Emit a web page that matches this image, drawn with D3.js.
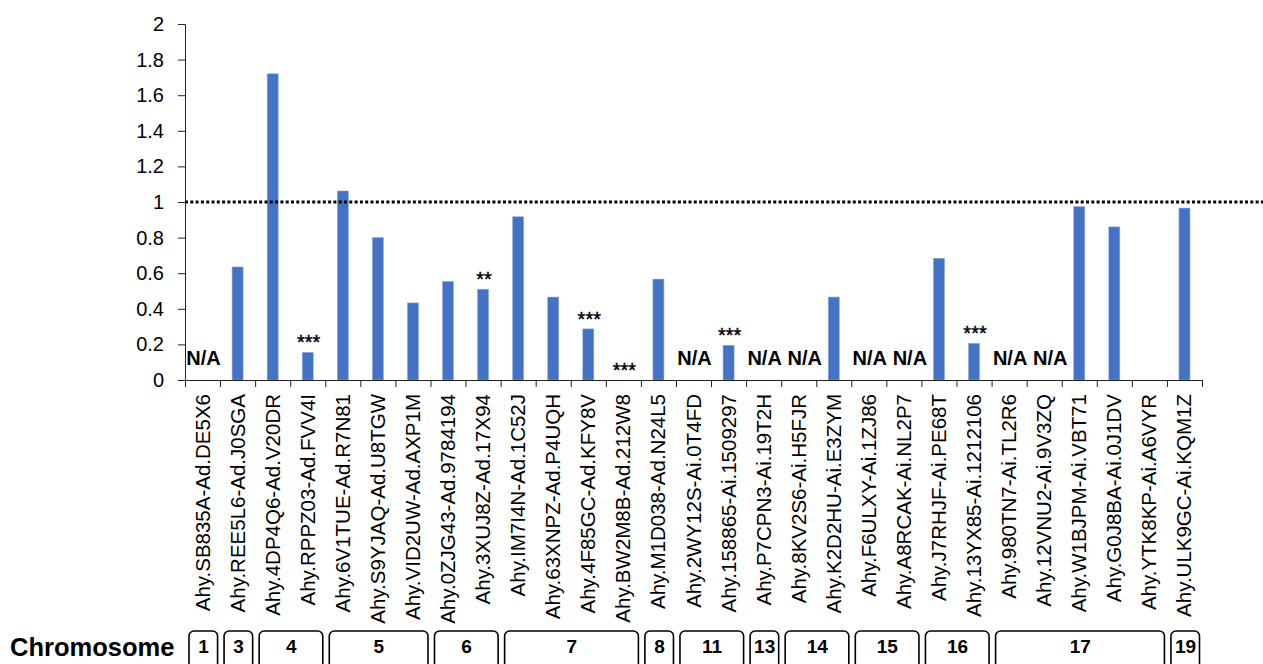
<!DOCTYPE html>
<html>
<head>
<meta charset="utf-8">
<script src="https://cdn.jsdelivr.net/npm/d3@7"></script>
<style>
  body { margin: 0; background: #fff; }
  svg { display: block; }
  text { font-family: "Liberation Sans", Arial, sans-serif; }
</style>
</head>
<body>
<svg id="chart" width="1263" height="664"></svg>
<script>
// marker names, in plot order
let markers = [
  "Ahy.SB835A-Ad.DE5X6", "Ahy.REE5L6-Ad.J0SGA", "Ahy.4DP4Q6-Ad.V20DR", "Ahy.RPPZ03-Ad.FVV4I",
  "Ahy.6V1TUE-Ad.R7N81", "Ahy.S9YJAQ-Ad.U8TGW", "Ahy.VID2UW-Ad.AXP1M", "Ahy.0ZJG43-Ad.9784194",
  "Ahy.3XUJ8Z-Ad.17X94", "Ahy.IM7I4N-Ad.1C52J", "Ahy.63XNPZ-Ad.P4UQH", "Ahy.4F85GC-Ad.KFY8V",
  "Ahy.BW2M8B-Ad.212W8", "Ahy.M1D038-Ad.N24L5", "Ahy.2WY12S-Ai.0T4FD", "Ahy.158865-Ai.1509297",
  "Ahy.P7CPN3-Ai.19T2H", "Ahy.8KV2S6-Ai.H5FJR", "Ahy.K2D2HU-Ai.E3ZYM", "Ahy.F6ULXY-Ai.1ZJ86",
  "Ahy.A8RCAK-Ai.NL2P7", "Ahy.J7RHJF-Ai.PE68T", "Ahy.13YX85-Ai.1212106", "Ahy.980TN7-Ai.TL2R6",
  "Ahy.12VNU2-Ai.9V3ZQ", "Ahy.W1BJPM-Ai.VBT71", "Ahy.G0J8BA-Ai.0J1DV", "Ahy.YTK8KP-Ai.A6VYR",
  "Ahy.ULK9GC-Ai.KQM1Z"
]
// null = N/A
let values = [
  null, 0.635, 1.72, 0.155, 1.062, 0.80, 0.433, 0.554,
  0.51, 0.917, 0.466, 0.287, 0, 0.567, null, 0.195,
  null, null, 0.466, null, null, 0.684, 0.206, null,
  null, 0.974, 0.86, 0, 0.966
]
let stars = [
  "", "", "", "***", "", "", "", "",
  "**", "", "", "***", "***", "", "", "***",
  "", "", "", "", "", "", "***", "",
  "", "", "", "", ""
]
let chromosomes = ["1", "3", "4", "5", "6", "7", "8", "11", "13", "14", "15", "16", "17", "19"]
let chromCounts = [1, 1, 2, 3, 2, 4, 1, 2, 1, 2, 2, 2, 5, 1]
let yTicks = [0, 0.2, 0.4, 0.6, 0.8, 1, 1.2, 1.4, 1.6, 1.8, 2]
let refLine = 1

let plotLeft = 185,
  plotRight = 1202,
  plotTop = 24,
  y0 = 380

let svg = d3.select("#chart")
let val = d => values[markers.indexOf(d)]

let x = d3.scaleBand()
  .domain(markers)
  .range([plotLeft, plotRight])
  .paddingInner(0.686)
  .paddingOuter(0.343)

// band edges, for the tick marks and chromosome boxes
let xEdge = d3.scaleLinear()
  .domain([0, markers.length])
  .range([plotLeft, plotRight])

let y = d3.scaleLinear()
  .domain([0, 2])
  .range([y0, plotTop])

// y axis
svg.append("g")
  .attr("transform", `translate(${plotLeft},0)`)
  .call(d3.axisLeft(y).tickValues(yTicks).tickSize(7).tickPadding(14)
    .tickFormat(d3.format(".1~f")))
  .call(g => g.selectAll("text").attr("font-size", 20).attr("fill", "#000"))
  .call(g => g.selectAll("line, path").attr("stroke", "#222"))

// bars
svg.append("g")
  .selectAll("rect")
  .data(markers.filter(d => val(d) > 0))
  .enter()
  .append("rect")
  .attr("x", d => x(d))
  .attr("width", x.bandwidth())
  .attr("y", d => y(val(d)))
  .attr("height", d => y0 - y(val(d)))
  .attr("fill", "#4472c4")
  .attr("stroke", "#8faadc")
  .attr("stroke-width", 0.6)

// x axis, ticks at band edges
svg.append("g")
  .attr("transform", `translate(0,${y0})`)
  .call(d3.axisBottom(xEdge).ticks(markers.length).tickSize(7).tickSizeOuter(7).tickFormat(""))
  .call(g => g.selectAll("line, path").attr("stroke", "#222"))

// rotated marker names
svg.append("g")
  .selectAll("text")
  .data(markers)
  .enter()
  .append("text")
  .attr("transform", d => `translate(${x(d) + x.bandwidth() / 2 + 7},394) rotate(-90)`)
  .attr("text-anchor", "end")
  .attr("font-size", 20.5)
  .text(d => d)

// reference line at 1
svg.append("line")
  .attr("x1", plotLeft)
  .attr("x2", 1263)
  .attr("y1", y(refLine))
  .attr("y2", y(refLine))
  .attr("stroke", "#000")
  .attr("stroke-width", 3)
  .attr("stroke-dasharray", "3 2.3")

// N/A labels (second of a pair nudged right so they don't touch)
svg.append("g")
  .selectAll("text")
  .data(markers.filter(d => val(d) === null))
  .enter()
  .append("text")
  .attr("x", d => {
    let i = markers.indexOf(d)
    return x(d) + x.bandwidth() / 2 + (i > 0 && values[i - 1] === null ? 6 : 1)
  })
  .attr("y", 365)
  .attr("text-anchor", "middle")
  .attr("font-size", 20)
  .attr("font-weight", "bold")
  .text("N/A")

// significance stars
svg.append("g")
  .selectAll("text")
  .data(markers.filter((m, i) => stars[i] != ""))
  .enter()
  .append("text")
  .attr("x", d => x(d) + x.bandwidth() / 2 + 1)
  .attr("y", d => y(val(d)) - 3)
  .attr("text-anchor", "middle")
  .attr("font-size", 20)
  .attr("stroke", "#000")
  .attr("stroke-width", 0.4)
  .text(d => stars[markers.indexOf(d)])

// chromosome boxes
let starts = d3.cumsum([0].concat(chromCounts))
let chrom = svg.append("g")
  .selectAll("g")
  .data(chromosomes)
  .enter()
  .append("g")

chrom.append("rect")
  .attr("x", (d, i) => xEdge(starts[i]) + 4)
  .attr("width", (d, i) => xEdge(starts[i + 1]) - xEdge(starts[i]) - 6.5)
  .attr("y", 631)
  .attr("height", 60)
  .attr("rx", 5)
  .attr("fill", "none")
  .attr("stroke", "#000")
  .attr("stroke-width", 1.6)

chrom.append("text")
  .attr("x", (d, i) => (xEdge(starts[i]) + xEdge(starts[i + 1])) / 2 + 1)
  .attr("y", 653)
  .attr("text-anchor", "middle")
  .attr("font-size", 19)
  .attr("font-weight", "bold")
  .text(d => d)

svg.append("text")
  .attr("x", 10)
  .attr("y", 656)
  .attr("font-size", 25.5)
  .attr("font-weight", "bold")
  .text("Chromosome")
</script>
</body>
</html>
